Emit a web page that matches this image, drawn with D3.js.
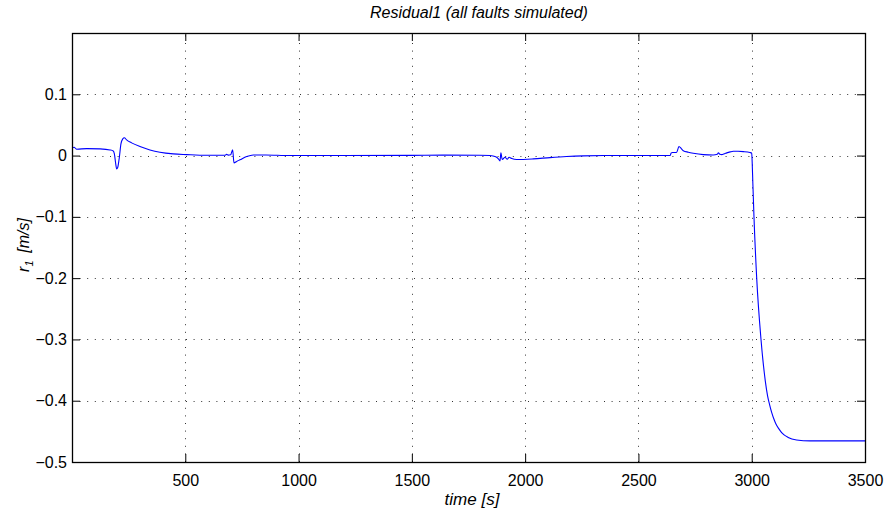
<!DOCTYPE html>
<html>
<head>
<meta charset="utf-8">
<script src="https://cdn.jsdelivr.net/npm/d3@7"></script>
<style>
  body { margin: 0; background: #fff; }
  svg { display: block; }
  text { font-family: "Liberation Sans", Arial, Helvetica, sans-serif; fill: #000; }
</style>
</head>
<body>
<svg id="chart" width="888" height="514"></svg>
<script>
const times = [0, 9, 21, 65, 124, 168, 182, 187, 193, 197, 202, 209, 216, 224, 231, 241, 263, 300, 344, 388, 447, 506, 594, 675, 682, 690, 700, 709, 715, 727, 741, 771, 800, 856, 958,
  1200, 1500, 1650, 1800, 1845, 1870, 1882, 1889, 1893, 1899, 1911, 1921, 1929, 1941, 1963, 2036, 2110, 2183, 2257, 2350,
  2640, 2644, 2650, 2668, 2679, 2690, 2698, 2720, 2742, 2786, 2830, 2848, 2853, 2860, 2867, 2880, 2890, 2905, 2919, 2940, 2963, 2992, 3000,
  3002, 3005, 3010, 3022, 3041, 3060, 3070, 3078, 3088, 3100, 3107, 3120, 3132, 3161, 3198, 3257, 3350, 3500];
const residual = [0.012, 0.0136, 0.0103, 0.0114, 0.0109, 0.0092, 0.0076, 0.0027, -0.0136, -0.0217, -0.019, -0.0027, 0.019, 0.0272, 0.029, 0.0256, 0.0207, 0.0147, 0.0092, 0.0054, 0.0027, 0.0016, 0.0005, 0.0005, 0.002, 0.0008, 0.0012, 0.0093, -0.012, -0.0095, -0.007, -0.0016, 0.001, 0.001, 0.0,
  0.0, 0.0003, 0.0008, 0.0005, 0.0, -0.002, -0.0054, -0.0087, 0.0044, -0.0065, -0.0027, -0.006, -0.0027, -0.0049, -0.0065, -0.0054, -0.0033, -0.0016, -0.0005, 0.0,
  0.0, 0.004, 0.005, 0.005, 0.0147, 0.011, 0.008, 0.0055, 0.0038, 0.0016, 0.001, 0.002, 0.0044, 0.002, 0.0016, 0.003, 0.0044, 0.006, 0.007, 0.007, 0.0065, 0.005, 0.004,
  -0.01, -0.045, -0.1, -0.2, -0.3, -0.368, -0.392, -0.405, -0.419, -0.432, -0.438, -0.446, -0.452, -0.460, -0.464, -0.4655, -0.4655, -0.4655];
const xTicks = [500, 1000, 1500, 2000, 2500, 3000, 3500];
const yTicks = [-0.5, -0.4, -0.3, -0.2, -0.1, 0, 0.1];
const xDomain = [0, 3500];
const yDomain = [-0.5, 0.2];
const titleText = "Residual1 (all faults simulated)";
const xLabelText = "time [s]";

const svg = d3.select("#chart");
const m = { left: 72, right: 865, top: 33, bottom: 462 };
const x = d3.scaleLinear().domain(xDomain).range([m.left, m.right]);
const y = d3.scaleLinear().domain(yDomain).range([m.bottom, m.top]);
const W = m.right - m.left, H = m.bottom - m.top;
const tickLen = 8;

// grid
const grid = svg.append("g").attr("stroke", "#000").attr("stroke-width", 1)
  .attr("stroke-dasharray", "1,6.6").attr("opacity", 0.8);
xTicks.filter(t => t < xDomain[1]).forEach(t => {
  grid.append("line").attr("x1", Math.round(x(t)) + 0.5).attr("x2", Math.round(x(t)) + 0.5)
    .attr("y1", m.bottom).attr("y2", m.top);
});
yTicks.filter(t => t > yDomain[0]).forEach(t => {
  grid.append("line").attr("y1", Math.round(y(t)) + 0.5).attr("y2", Math.round(y(t)) + 0.5)
    .attr("x1", m.left).attr("x2", m.right);
});

// data line
const pts = times.map((t, i) => [t, residual[i]]);
const clipId = "clip";
svg.append("clipPath").attr("id", clipId).append("rect")
  .attr("x", m.left).attr("y", m.top).attr("width", W).attr("height", H);
svg.append("path").datum(pts)
  .attr("clip-path", `url(#${clipId})`)
  .attr("fill", "none").attr("stroke", "#0000ff").attr("stroke-width", 1.1)
  .attr("stroke-linejoin", "round")
  .attr("d", d3.line().x(d => x(d[0])).y(d => y(d[1])).curve(d3.curveMonotoneX));

// axes with inward ticks on all sides
const axB = d3.axisBottom(x).tickValues(xTicks).tickSize(-tickLen).tickPadding(13).tickFormat(d3.format("d"));
const axT = d3.axisTop(x).tickValues(xTicks).tickSize(-tickLen).tickFormat("");
const fmtY = d => d === 0 ? "0" : d3.format(".1f")(d).replace("-", "\u2212");
const axL = d3.axisLeft(y).tickValues(yTicks).tickSize(-tickLen).tickPadding(5).tickFormat(fmtY);
const axR = d3.axisRight(y).tickValues(yTicks).tickSize(-tickLen).tickFormat("");

function styleAxis(g) {
  g.select(".domain").remove();
  g.selectAll(".tick line").attr("stroke", "#000").attr("stroke-width", 1);
  g.selectAll(".tick text").style("font-size", "16px").attr("fill", "#000")
    .style("font-family", '"Liberation Sans", Arial, sans-serif');
}
svg.append("g").attr("transform", `translate(0,${m.bottom})`).call(axB).call(styleAxis);
svg.append("g").attr("transform", `translate(0,${m.top})`).call(axT).call(styleAxis);
svg.append("g").attr("transform", `translate(${m.left},0)`).call(axL).call(styleAxis);
svg.append("g").attr("transform", `translate(${m.right},0)`).call(axR).call(styleAxis);

// box
svg.append("rect").attr("x", m.left + 0.5).attr("y", m.top + 0.5).attr("width", W).attr("height", H)
  .attr("fill", "none").attr("stroke", "#000").attr("stroke-width", 1.3);

// title
svg.append("text").attr("x", 479).attr("y", 17.5).attr("text-anchor", "middle")
  .style("font-size", "16px").style("font-style", "italic").text(titleText);

// x label
svg.append("text").attr("x", 472).attr("y", 505).attr("text-anchor", "middle")
  .style("font-size", "17px").style("font-style", "italic").text(xLabelText);

// y label
const yl = svg.append("text").attr("transform", "translate(29,245) rotate(-90)")
  .attr("text-anchor", "middle").style("font-size", "16px").style("font-style", "italic");
yl.append("tspan").text("r");
yl.append("tspan").attr("dy", 4).style("font-size", "11px").text("1");
yl.append("tspan").attr("dy", -4).text("\u2009 [m/s]");
</script>
</body>
</html>
